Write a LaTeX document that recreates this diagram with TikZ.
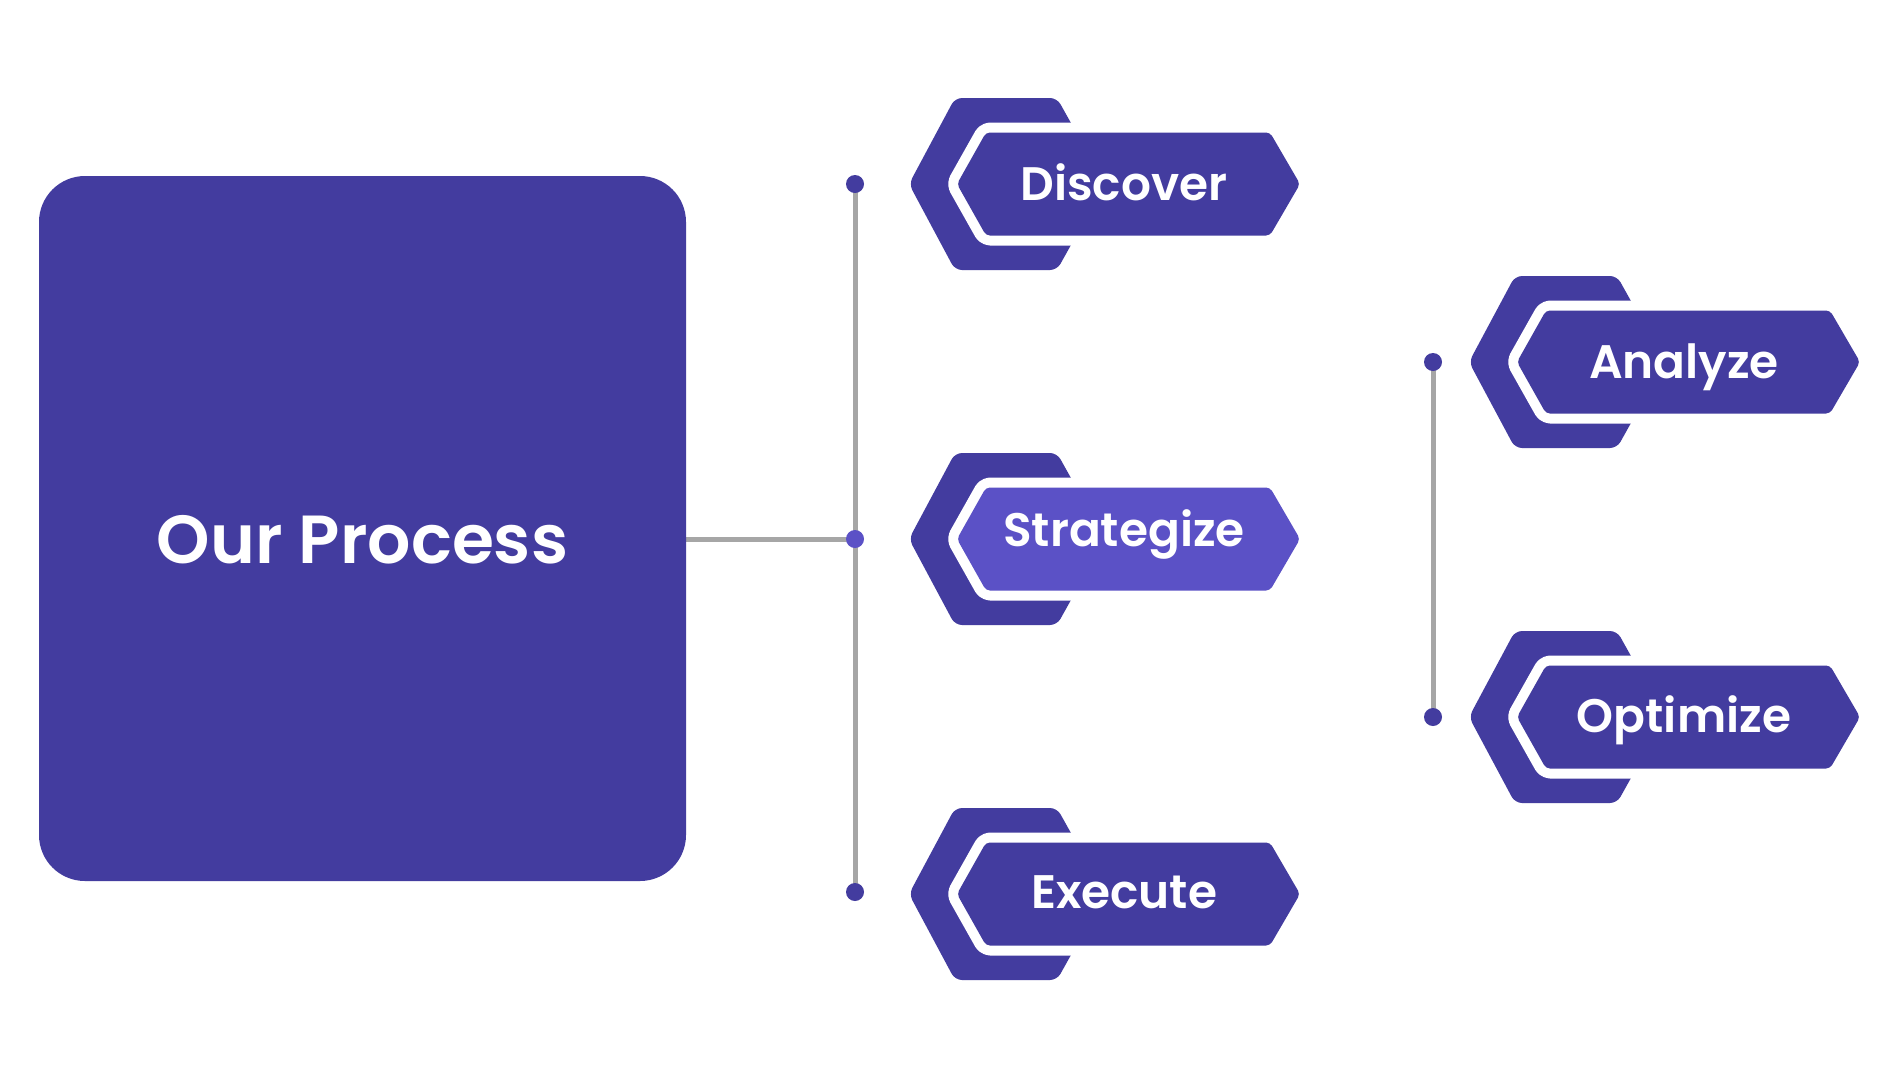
\documentclass[tikz,border=0pt]{standalone}
\usepackage{fontspec}
\setmainfont{Poppins}[BoldFont={Poppins SemiBold}]
\usetikzlibrary{backgrounds}
\definecolor{indigo}{HTML}{433C9F}
\definecolor{indigolt}{HTML}{5B51C6}
\definecolor{connGray}{HTML}{A6A6A6}
\tikzset{
  bigbox/.style={fill=indigo, rounded corners=46pt, minimum width=647pt, minimum height=705pt, inner sep=0pt},
  boxtext/.style={text=white, font=\bfseries\fontsize{68}{68}\selectfont, anchor=base, inner sep=0pt},
  tagtext/.style={text=white, font=\bfseries\fontsize{47}{47}\selectfont, anchor=base, inner sep=0pt},
  dotnode/.style={circle, fill=#1, minimum size=18pt, inner sep=0pt},
  dotnode/.default=indigo,
  connline/.style={draw=connGray, line width=5pt}
}
\newcommand\proctag[6]{%
  \begin{scope}[shift={(#1,#2)}]
    \fill[indigo, rounded corners=7pt] (0,0) -- (46,-86) -- (148,-86) -- (196,0) -- (148,86) -- (46,86) -- cycle;
    \draw[white, line width=20pt, line join=round, rounded corners=4pt] (48,0) -- (77,-51.5) -- (361,-51.5) -- (391,0) -- (361,51.5) -- (77,51.5) -- cycle;
    \fill[#3, rounded corners=4pt] (48,0) -- (77,-51.5) -- (361,-51.5) -- (391,0) -- (361,51.5) -- (77,51.5) -- cycle;
    \node[tagtext] (#4) at (215,#6) {#5};
  \end{scope}}
\begin{document}
\begin{tikzpicture}[x=1pt,y=-1pt]
  \useasboundingbox (0,0) rectangle (1900,1080);
  % main box
  \node[bigbox] (box) at (362.5,528.5) {};
  \node[boxtext] (boxlabel) at (362.5,563) {Our Process};
  % dots
  \node[dotnode] (dA) at (855,184) {};
  \node[dotnode=indigolt] (dB) at (855,539) {};
  \node[dotnode] (dC) at (855,892) {};
  \node[dotnode] (dD) at (1433,362) {};
  \node[dotnode] (dE) at (1433,717) {};
  \begin{pgfonlayer}{background}
    \fill[white] (0,0) rectangle (1900,1080);
    \draw[connline] (dA.center) -- (dC.center);
    \draw[connline] (box.east |- dB) -- (dB.center);
    \draw[connline] (dD.center) -- (dE.center);
  \end{pgfonlayer}
  % tags
  \proctag{909}{184}{indigo}{discover}{Discover}{16}
  \proctag{909}{539}{indigolt}{strategize}{Strategize}{7}
  \proctag{909}{894}{indigo}{execute}{Execute}{14}
  \proctag{1469}{362}{indigo}{analyze}{Analyze}{16}
  \proctag{1469}{717}{indigo}{optimize}{Optimize}{15}
\end{tikzpicture}
\end{document}
